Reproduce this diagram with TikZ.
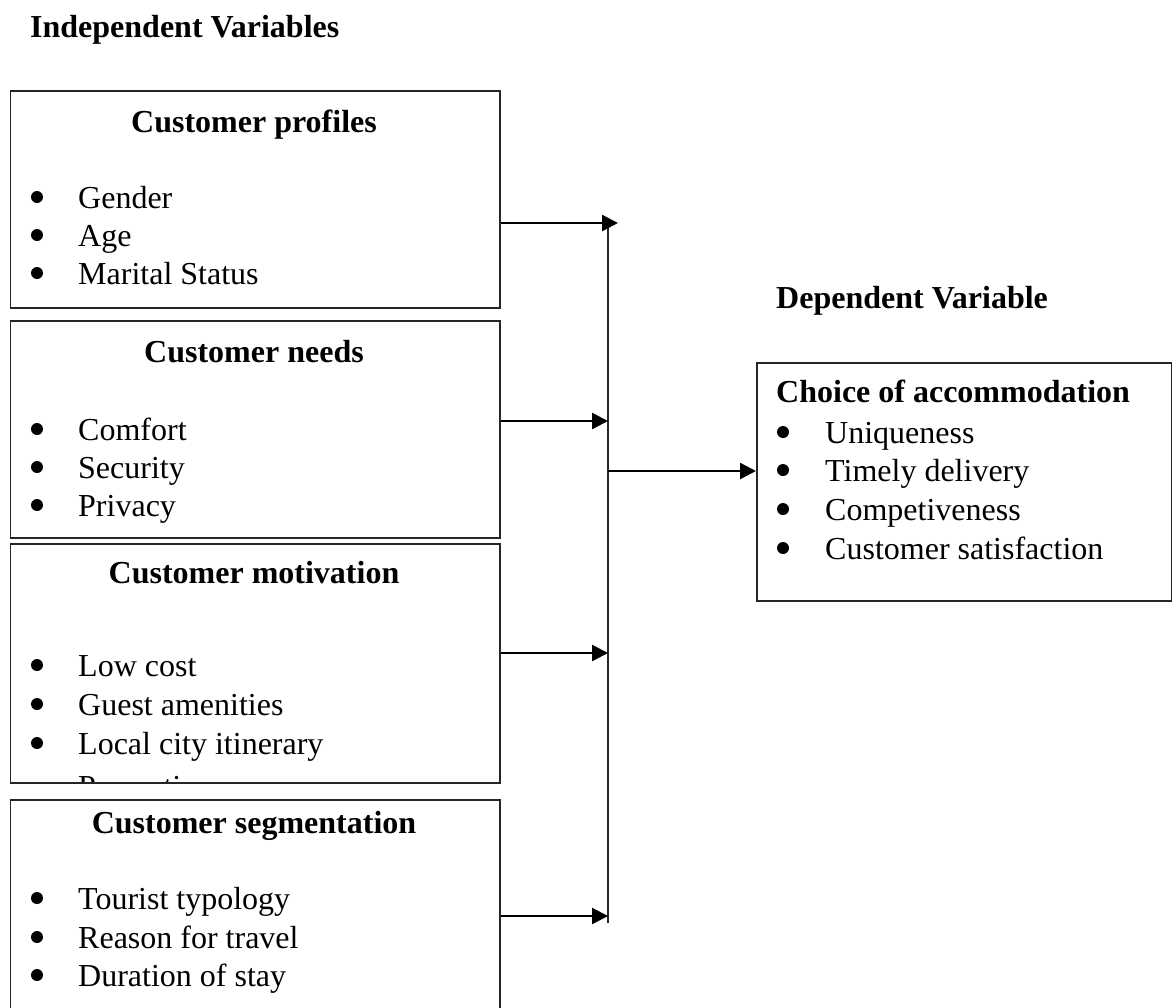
\documentclass[tikz,border=0pt]{standalone}
\usepackage{fontspec}
\setmainfont{Liberation Serif}
\usetikzlibrary{arrows.meta}
\begin{document}
\begin{tikzpicture}[x=1pt,y=-1pt,
  box/.style={draw=black!85,line width=1.5pt,inner sep=0pt,anchor=north west},
  item/.style={anchor=base west,inner sep=0pt,font=\fontsize{32}{38}\selectfont},
  head/.style={anchor=base,inner sep=0pt,font=\fontsize{32}{38}\selectfont\bfseries},
  lhead/.style={anchor=base west,inner sep=0pt,font=\fontsize{32}{38}\selectfont\bfseries},
  dot/.style={circle,fill=black,inner sep=0pt,minimum size=12pt},
  arr/.style={line width=2.4pt,-{Triangle[length=16pt,width=16pt]}},
  vline/.style={line width=1.5pt,draw=black!85}]
\useasboundingbox (0,0) rectangle (1172,1007);
\clip (0,0) rectangle (1172,1007);
\fill[white] (0,0) rectangle (1172,1007);

% titles
\node[lhead] (tind) at (30,37) {Independent Variables};
\node[lhead] (tdep) at (776,308) {Dependent Variable};

% box 1
\node[box,minimum width=489.5pt,minimum height=217pt] (b1) at (9.5,90) {};
\node[head] (h1) at (254,132) {Customer profiles};
\node[dot] (d11) at (37,197) {}; \node[item] (i11) at (78,208) {Gender};
\node[dot] (d12) at (37,235) {}; \node[item] (i12) at (78,246) {Age};
\node[dot] (d13) at (37,273) {}; \node[item] (i13) at (78,284) {Marital Status};

% box 2
\node[box,minimum width=489.5pt,minimum height=217pt] (b2) at (9.5,320) {};
\node[head] (h2) at (254,362) {Customer needs};
\node[dot] (d21) at (37,429) {}; \node[item] (i21) at (78,440) {Comfort};
\node[dot] (d22) at (37,467) {}; \node[item] (i22) at (78,478) {Security};
\node[dot] (d23) at (37,505) {}; \node[item] (i23) at (78,516) {Privacy};

% box 3
\begin{scope}
\clip (9.5,543) rectangle (499,782);
\node[item] (i34) at (78,797) {Promotion};
\end{scope}
\node[box,minimum width=489.5pt,minimum height=239pt] (b3) at (9.5,543) {};
\node[head] (h3) at (254,583) {Customer motivation};
\node[dot] (d31) at (37,665) {}; \node[item] (i31) at (78,676) {Low cost};
\node[dot] (d32) at (37,704) {}; \node[item] (i32) at (78,715) {Guest amenities};
\node[dot] (d33) at (37,743) {}; \node[item] (i33) at (78,754) {Local city itinerary};

% box 4 (runs past the lower edge)
\node[box,minimum width=489.5pt,minimum height=240pt] (b4) at (9.5,799) {};
\node[head] (h4) at (254,833) {Customer segmentation};
\node[dot] (d41) at (37,898) {}; \node[item] (i41) at (78,909) {Tourist typology};
\node[dot] (d42) at (37,937) {}; \node[item] (i42) at (78,948) {Reason for travel};
\node[dot] (d43) at (37,975) {}; \node[item] (i43) at (78,986) {Duration of stay};

% dependent box
\node[box,minimum width=415pt,minimum height=238pt] (dep) at (756,362) {};
\node[lhead] (hd) at (776,402) {Choice of accommodation};
\node[dot] (dd1) at (783,432) {}; \node[item] (id1) at (825,443) {Uniqueness};
\node[dot] (dd2) at (783,470) {}; \node[item] (id2) at (825,481) {Timely delivery};
\node[dot] (dd3) at (783,509) {}; \node[item] (id3) at (825,520) {Competiveness};
\node[dot] (dd4) at (783,548) {}; \node[item] (id4) at (825,559) {Customer satisfaction};

% connectors
\coordinate (t1) at (618,223);
\coordinate (j1) at (608,223);
\coordinate (j2) at (608,421);
\coordinate (j3) at (608,653);
\coordinate (j4) at (608,916);
\coordinate (jend) at (608,923);
\coordinate (jd) at (608,471);
\draw[vline] (j1) -- (jend);
\draw[arr] (b1.east |- t1) -- (t1);
\draw[arr] (b2.east |- j2) -- (j2);
\draw[arr] (b3.east |- j3) -- (j3);
\draw[arr] (b4.east |- j4) -- (j4);
\draw[arr] (jd) -- (dep.west |- jd);
\end{tikzpicture}
\end{document}
